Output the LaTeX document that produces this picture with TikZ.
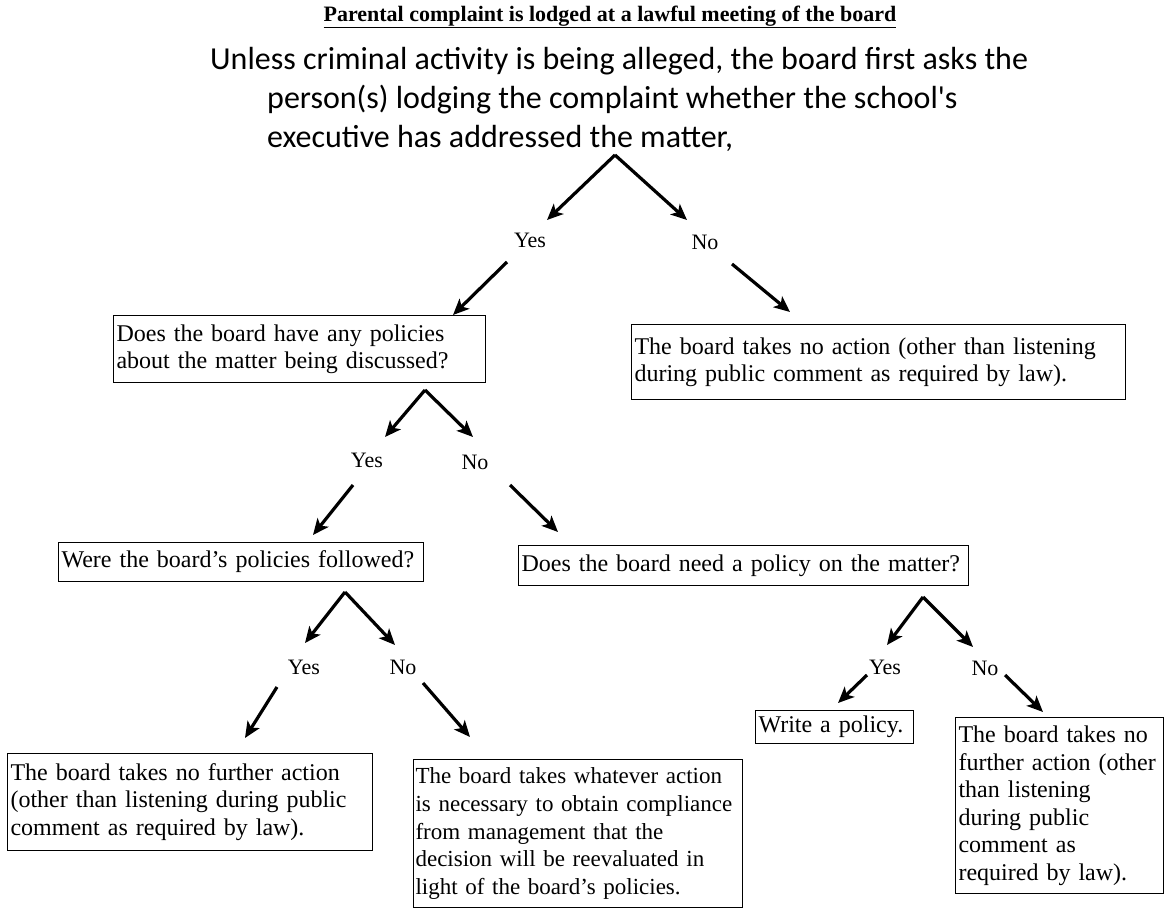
\documentclass[tikz,border=0pt]{standalone}
\usepackage{fontspec}
\setmainfont{Liberation Serif}
\newfontfamily\calfont{Carlito}
\usetikzlibrary{arrows.meta,calc}
\hyphenpenalty=10000
\exhyphenpenalty=10000
\begin{document}
\begin{tikzpicture}[x=1pt,y=-1pt,
  box/.style={draw=black,line width=1.1pt,anchor=north west,inner xsep=3pt,inner ysep=0pt,align=left,font=\fontsize{24}{27.5}\selectfont},
  lbl/.style={inner sep=0pt,font=\fontsize{22}{26}\selectfont},
  arr/.style={line width=3.2pt,-{Stealth[length=16pt,width=14pt,inset=4pt]}},
]
\useasboundingbox[fill=white] (0,0) rectangle (1166,912);

% title and opening question
\node[inner sep=0pt,font=\fontsize{22}{26}\selectfont\bfseries] (T) at (610,17) {\underline{Parental complaint is lodged at a lawful meeting of the board}};
\node[inner sep=0pt,anchor=north west,align=left,font=\calfont\fontsize{32}{39}\selectfont] (Q0) at (210,47)
  {Unless criminal activity is being alleged, the board first asks the\\
   \hspace*{57pt}person(s) lodging the complaint whether the school's\\
   \hspace*{57pt}executive has addressed the matter,};

% branch points
\coordinate (p0) at (615,155);
\coordinate (p1) at (425,390);
\coordinate (p2) at (345,592);
\coordinate (p3) at (923,597);

% labels
\node[lbl] (Y1) at (530,240) {Yes};
\node[lbl] (N1) at (705,242) {No};
\node[lbl] (Y2) at (367,460) {Yes};
\node[lbl] (N2) at (475,462) {No};
\node[lbl] (Y3) at (304,667) {Yes};
\node[lbl] (N3) at (403,667) {No};
\node[lbl] (Y4) at (885,667) {Yes};
\node[lbl] (N4) at (985,668) {No};

% boxes
\node[box,text width=366pt,minimum height=67pt] (B1) at (113,315)
  {Does the board have any policies\\about the matter being discussed?};
\node[box,text width=488pt,minimum height=75pt] (B2) at (631,324)
  {The board takes no action (other than listening\\during public comment as required by law).};
\node[box,text width=359pt,minimum height=39pt] (B3) at (58,542)
  {Were the board's policies followed?};
\node[box,text width=444pt,minimum height=40pt] (B4) at (518,545)
  {Does the board need a policy on the matter?};
\node[box,text width=359pt,minimum height=97pt] (B5) at (7,753)
  {The board takes no further action\\(other than listening during public\\comment as required by law).};
\node[box,inner xsep=2pt,text width=325pt,minimum height=148pt,font=\fontsize{23}{27.8}\selectfont] (B6) at (413,759)
  {The board takes whatever action\\is necessary to obtain compliance\\from management that the\\decision will be reevaluated in\\light of the board's policies.};
\node[box,text width=152pt,minimum height=33pt] (B7) at (755,710)
  {Write a policy.};
\node[box,text width=202pt,minimum height=176pt] (B8) at (955,717)
  {The board takes no\\further action (other\\than listening\\during public\\comment as\\required by law).};

% arrows
\draw[arr] (p0) -- ($(Y1)+(17,-20)$);
\draw[arr] (p0) -- ($(N1)+(-18,-22)$);
\draw[arr] ($(Y1)+(-23,22)$) -- ($(B1.north west)+(340,0)$);
\draw[arr] ($(N1)+(27,22)$) -- ($(B2.north west)+(159,-12)$);

\draw[arr] (p1) -- ($(Y2)+(18,-23)$);
\draw[arr] (p1) -- ($(N2)+(-2,-25)$);
\draw[arr] ($(Y2)+(-14,25)$) -- ($(B3.north west)+(255,-7)$);
\draw[arr] ($(N2)+(35,23)$) -- ($(B4.north west)+(40,-13)$);

\draw[arr] (p2) -- ($(Y3)+(1,-24)$);
\draw[arr] (p2) -- ($(N3)+(-8,-22)$);
\draw[arr] ($(Y3)+(-27,20)$) -- ($(B5.north west)+(238,-15)$);
\draw[arr] ($(N3)+(20,16)$) -- ($(B6.north west)+(57,-22)$);

\draw[arr] (p3) -- ($(Y4)+(2,-22)$);
\draw[arr] (p3) -- ($(N4)+(-12,-21)$);
\draw[arr] ($(Y4)+(-18,8)$) -- ($(B7.north west)+(83,-7)$);
\draw[arr] ($(N4)+(20,7)$) -- ($(B8.north west)+(88,-5)$);
\end{tikzpicture}
\end{document}
